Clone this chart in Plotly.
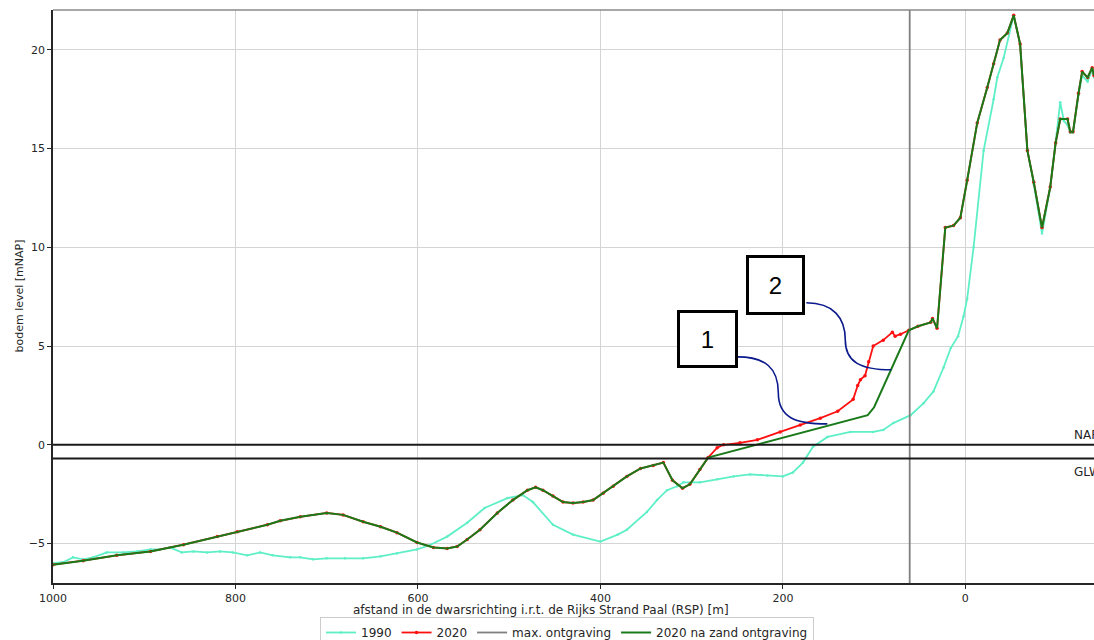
import plotly.graph_objects as go

# ---- profile data: distance to RSP [m] and bed level [m NAP] ----
# 1990 survey
x_1990 = [1000, 989, 978, 967, 956, 941, 923, 908, 893, 883, 872, 859, 846, 831, 817,
          803, 787, 773, 759, 740, 729, 715, 700, 680, 660, 641, 623, 601, 588, 568,
          546, 527, 502, 485, 474, 452, 430, 400, 381, 371, 349, 338, 327, 316, 309,
          291, 272, 254, 236, 217, 200, 189, 178, 167, 151, 126, 101, 90, 79, 60,
          46, 35, 24, 16, 8, 2, -2, -9, -20, -31, -35, -42, -53, -60, -68,
          -75, -84, -93, -99, -104, -108, -112, -115, -118, -124, -128, -134, -139, -141]
y_1990 = [-6.0, -5.95, -5.7, -5.8, -5.7, -5.45, -5.45, -5.4, -5.3, -5.3, -5.2, -5.45, -5.4, -5.45, -5.4,
          -5.45, -5.6, -5.45, -5.6, -5.7, -5.7, -5.8, -5.75, -5.75, -5.75, -5.65, -5.5, -5.3, -5.1, -4.65,
          -3.95, -3.2, -2.7, -2.55, -2.9, -4.05, -4.55, -4.9, -4.55, -4.3, -3.4, -2.8, -2.3, -2.1, -1.9,
          -1.9, -1.75, -1.6, -1.5, -1.55, -1.6, -1.4, -0.9, -0.1, 0.4, 0.65, 0.65, 0.75, 1.1, 1.5,
          2.1, 2.7, 3.9, 4.9, 5.5, 6.5, 7.4, 10.0, 14.9, 17.5, 18.6, 19.6, 21.75, 20.3, 14.9,
          13.2, 10.7, 13.0, 15.3, 17.35, 16.4, 16.2, 15.8, 15.8, 17.7, 18.7, 18.4, 19.0, 18.6]

# 2020 survey, seaward part (unchanged by the excavation)
x_sea = [1000, 967, 930, 893, 857, 820, 798, 765, 751, 729, 700, 682, 660, 641, 623,
         601, 583, 568, 557, 546, 532, 513, 496, 480, 471, 463, 452, 441, 430, 419,
         408, 397, 386, 371, 356, 342, 331, 321, 310, 302, 291, 282]
y_sea = [-6.07, -5.87, -5.6, -5.4, -5.06, -4.65, -4.4, -4.05, -3.85, -3.65, -3.45, -3.55, -3.9, -4.15, -4.45,
         -4.95, -5.2, -5.25, -5.15, -4.8, -4.3, -3.45, -2.8, -2.3, -2.15, -2.3, -2.6, -2.9, -2.95, -2.9,
         -2.8, -2.45, -2.1, -1.6, -1.2, -1.05, -0.9, -1.8, -2.2, -2.0, -1.25, -0.65]

# 2020 survey, beach section that gets excavated
x_mid_2020 = [272, 265, 247, 228, 203, 181, 159, 140, 123, 118, 115, 110, 106, 101, 90, 80, 77, 71]
y_mid_2020 = [-0.15, 0.0, 0.1, 0.25, 0.65, 1.0, 1.35, 1.7, 2.3, 3.0, 3.3, 3.5, 4.2, 5.0, 5.3, 5.7, 5.5, 5.6]

# beach section after sand excavation
x_mid_zand = [107, 100]
y_mid_zand = [1.5, 1.9]

# 2020 survey, landward part (dunes)
x_land = [62, 52, 38, 36, 31, 22, 13, 5.5, -2, -13, -24, -31, -38, -46, -53,
          -60, -68, -75, -84, -93, -99, -104, -112, -115, -118, -124, -128, -134, -139, -141]
y_land = [5.8, 6.0, 6.2, 6.4, 5.9, 11.0, 11.1, 11.5, 13.4, 16.3, 18.1, 19.3, 20.5, 20.85, 21.75,
          20.3, 14.9, 13.3, 11.0, 13.05, 15.3, 16.5, 16.5, 15.85, 15.85, 17.8, 18.9, 18.6, 19.1, 18.7]

x_max_ontgraving = 61      # landward limit of the excavation
nap_level = 0.0
glw_level = -0.7

x_ticks = [1000, 800, 600, 400, 200, 0]
y_ticks = [-5, 0, 5, 10, 15, 20]
y_ticktext = ["\u22125", "0", "5", "10", "15", "20"]
x_range = [1000, -141]
y_range = [-7.0, 22.02]

# callout boxes: label, x, y, width, height
callouts = [("1", 282.3, 5.36, 55, 52), ("2", 207.8, 8.10, 53, 54)]
# connector curves (cubic Bezier control points in data units)
connectors = [
    [(250.0, 4.45), (219.3, 4.45), (205.0, 3.90), (205.0, 2.63), (205.0, 1.37), (186.4, 1.06), (151.3, 1.06)],
    [(174.3, 7.19), (144.7, 7.19), (131.6, 6.43), (131.6, 5.31), (131.6, 4.20), (115.1, 3.80), (81.1, 3.80)],
]

x_2020 = x_sea + x_mid_2020 + x_land
y_2020 = y_sea + y_mid_2020 + y_land
x_zand = x_sea + x_mid_zand + x_land
y_zand = y_sea + y_mid_zand + y_land

fig = go.Figure()
fig.add_trace(go.Scatter(x=x_1990, y=y_1990, name="1990", mode="lines+markers",
                         line=dict(color="#5EEFC6", width=1.8),
                         marker=dict(size=2.5, color="#5EEFC6")))
fig.add_trace(go.Scatter(x=x_2020, y=y_2020, name="2020", mode="lines+markers",
                         line=dict(color="#FF1010", width=1.8),
                         marker=dict(size=3.5, color="#FF1010")))
fig.add_trace(go.Scatter(x=[x_max_ontgraving, x_max_ontgraving], y=y_range, name="max. ontgraving",
                         mode="lines", line=dict(color="#808080", width=1.8)))
fig.add_trace(go.Scatter(x=x_zand, y=y_zand, name="2020 na zand ontgraving", mode="lines",
                         line=dict(color="#1A7A1A", width=2)))

shapes = []
for lvl in (nap_level, glw_level):
    shapes.append(dict(type="line", xref="paper", x0=0, x1=1, yref="y", y0=lvl, y1=lvl,
                       line=dict(color="#1a1a1a", width=2), layer="above"))
# top frame line
shapes.append(dict(type="line", xref="paper", x0=0, x1=1, yref="paper", y0=1, y1=1,
                   line=dict(color="#8a8a8a", width=1.5)))
for pts in connectors:
    path = "M {},{} C {},{} {},{} {},{} C {},{} {},{} {},{}".format(
        *[v for p in pts for v in p])
    shapes.append(dict(type="path", xref="x", yref="y", path=path,
                       line=dict(color="#0B1A8C", width=1.6)))

annotations = []
for label, cx, cy, w, h in callouts:
    annotations.append(dict(x=cx, y=cy, xref="x", yref="y", text=label, showarrow=False,
                            font=dict(family="Liberation Sans, Arial", size=24, color="black"),
                            width=w, height=h, bgcolor="white", bordercolor="black",
                            borderwidth=3, borderpad=0))
annotations.append(dict(x=-117, y=nap_level + 0.5, xref="x", yref="y", text="NAP", showarrow=False,
                        xanchor="left", font=dict(size=12, color="#262626")))
annotations.append(dict(x=-117, y=glw_level - 0.67, xref="x", yref="y", text="GLW", showarrow=False,
                        xanchor="left", font=dict(size=12, color="#262626")))
annotations.append(dict(x=(541 - 53) / 1041, y=(583 - 610) / 573, xref="paper", yref="paper",
                        text="afstand in de dwarsrichting i.r.t. de Rijks Strand Paal (RSP) [m]",
                        showarrow=False, xanchor="center", yanchor="middle",
                        font=dict(size=12, color="#262626")))
annotations.append(dict(x=(19 - 53) / 1041, y=0.5, xref="paper", yref="paper",
                        text="bodem level [mNAP]", textangle=-90, showarrow=False,
                        xanchor="center", yanchor="middle", font=dict(size=11, color="#262626")))

fig.update_layout(
    width=1094, height=640,
    margin=dict(l=53, r=0, t=10, b=57, autoexpand=False),
    plot_bgcolor="white", paper_bgcolor="white",
    font=dict(family="DejaVu Sans", size=11, color="#262626"),
    shapes=shapes, annotations=annotations,
    legend=dict(orientation="h", x=(320 - 53) / 1041, xanchor="left", y=(583 - 617) / 573, yanchor="top",
                bordercolor="#cccccc", borderwidth=1, bgcolor="white",
                font=dict(size=12, color="#262626"), itemwidth=30),
    showlegend=True,
)
fig.update_xaxes(range=x_range, tickvals=x_ticks, showgrid=True, gridcolor="#d4d4d4", gridwidth=1,
                 showline=True, linecolor="#262626", linewidth=1.5, ticks="outside", ticklen=4,
                 tickcolor="#262626", zeroline=False)
fig.update_yaxes(range=y_range, tickvals=y_ticks, ticktext=y_ticktext, showgrid=True,
                 gridcolor="#d4d4d4", gridwidth=1, showline=True, linecolor="#262626", linewidth=1.5,
                 ticks="outside", ticklen=4, tickcolor="#262626", zeroline=False)

fig.write_html("out.html")
